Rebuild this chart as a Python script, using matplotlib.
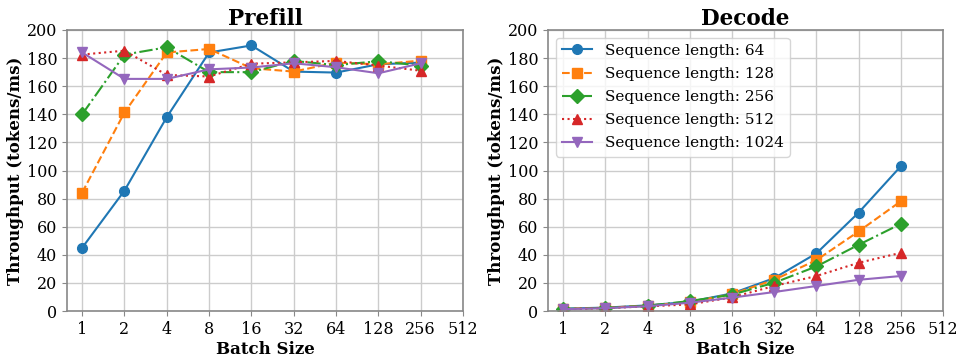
import numpy as np
from matplotlib import pyplot as plt

plt.rcParams['font.family'] = ['DejaVu Serif']

batch = [1, 2, 4, 8, 16, 32, 64, 128, 256]
xticks = [1, 2, 4, 8, 16, 32, 64, 128, 256, 512]
seq_lens = [64, 128, 256, 512, 1024]

prefill = {
    64:   [45.0, 85.7, 138.0, 184.0, 189.0, 170.4, 169.7, 175.6, 176.8],
    128:  [84.3, 141.3, 184.0, 186.5, 172.8, 170.4, 176.8, 175.6, 178.2],
    256:  [140.0, 182.5, 187.7, 170.0, 170.0, 178.0, 175.0, 177.8, 174.7],
    512:  [182.5, 185.3, 168.0, 166.9, 176.0, 177.0, 178.0, 174.7, 171.0],
    1024: [184.0, 165.2, 165.2, 172.0, 173.3, 176.3, 173.5, 169.2, 176.3],
}
decode = {
    64:   [1.7, 2.4, 4.0, 6.6, 12.5, 23.4, 41.0, 70.0, 103.0],
    128:  [1.5, 2.3, 3.8, 6.3, 12.0, 22.2, 36.2, 56.6, 78.1],
    256:  [1.4, 2.2, 3.7, 7.1, 11.6, 20.1, 31.7, 47.1, 62.0],
    512:  [1.2, 2.0, 3.3, 4.7, 9.7, 17.8, 24.9, 34.3, 41.4],
    1024: [1.3, 2.0, 3.4, 5.9, 9.5, 13.5, 17.8, 22.2, 24.9],
}

styles = {
    64:   dict(color='#1f77b4', linestyle='-',  marker='o'),
    128:  dict(color='#ff7f0e', linestyle='--', marker='s'),
    256:  dict(color='#2ca02c', linestyle='-.', marker='D'),
    512:  dict(color='#d62728', linestyle=':',  marker='^'),
    1024: dict(color='#9467bd', linestyle='-',  marker='v'),
}

fig = plt.figure(figsize=(9.69, 3.63), dpi=100)
ax1 = fig.add_axes([67/969, 1 - 311/363, 396/969, 281/363])
ax2 = fig.add_axes([548/969, 1 - 311/363, 395/969, 281/363])

for ax, data, title in [(ax1, prefill, 'Prefill'), (ax2, decode, 'Decode')]:
    for s in seq_lens:
        ax.plot(batch, data[s], linewidth=1.5, markersize=7,
                label="Sequence length: %d" % s, **styles[s])
    ax.set_xscale('log', base=2)
    ax.set_xlim(0.78, 512)
    ax.set_xticks(xticks)
    ax.set_xticklabels([str(v) for v in xticks])
    ax.minorticks_off()
    ax.set_ylim(0, 200)
    ax.set_yticks(np.arange(0, 201, 20))
    ax.grid(True, color='#cccccc', linewidth=1)
    ax.set_axisbelow(True)
    for sp in ax.spines.values():
        sp.set_color('#888888')
        sp.set_linewidth(1.2)
    ax.tick_params(colors='#888888', labelcolor='black', labelsize=11.5)
    ax.set_title(title, fontsize=15.5, fontweight='bold', pad=3)
    ax.set_xlabel("Batch Size", fontsize=12, fontweight='bold', labelpad=2)
    ax.set_ylabel("Throughput (tokens/ms)", fontsize=12, fontweight='bold', labelpad=2)

ax2.legend(loc='upper left', fontsize=11, framealpha=0.8, handlelength=2.0,
           labelspacing=0.6, borderaxespad=0.5)

plt.savefig('out.png', dpi=100)
